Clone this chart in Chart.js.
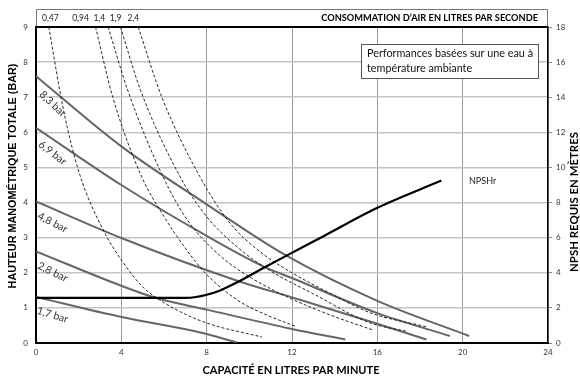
<!DOCTYPE html>
<html><head><meta charset="utf-8">
<script src="https://cdn.jsdelivr.net/npm/chart.js@4"></script>
<style>html,body{margin:0;padding:0;background:#fff}canvas{display:block}</style>
</head><body>
<canvas id="c" width="580" height="376"></canvas>
<script>
// ---- data ----
const xTickValues = [0,4,8,12,16,20,24];          // capacité, l/min
const yTickValues = [0,1,2,3,4,5,6,7,8,9];        // bar
const y2TickValues = [0,2,4,6,8,10,12,14,16,18];  // m

const pressureLabels = ['8,3 bar','6,9 bar','4,8 bar','2,8 bar','1,7 bar'];
const bar83X = [0,4,8,11.7,16,20.3];
const bar83Y = [7.6,5.6,3.95,2.5,1.2,0.2];
const bar69X = [0,4,8,10.7,12,16,19.4];
const bar69Y = [6.13,4.5,3.05,2.17,1.85,0.85,0.2];
const bar48X = [0,4,9.5,12,16,18.3];
const bar48Y = [4.03,2.99,1.76,1.3,0.55,0.1];
const bar28X = [0,4,5.65,8,12,14.5];
const bar28Y = [2.61,1.63,1.28,0.95,0.4,0.1];
const bar17X = [0,4,7.7,9.4];
const bar17Y = [1.31,0.74,0.3,0.02];

const airLabels = ['0,47','0,94','1,4','1,9','2,4'];
const air047X = [0.6,1.3,2.05,3.15,4.1,5.0,6.0,7.0,8.2,10.6];
const air047Y = [9,6.6,4.8,3.22,2.28,1.6,1.15,0.82,0.53,0.17];
const air094X = [2.79,3.6,4.95,6.0,7.0,8.0,9.5,10.8,12.15];
const air094Y = [9,7.0,4.74,3.6,2.7,1.95,1.2,0.8,0.48];
const air14X = [3.38,4.3,5.95,7.1,8.6,10.1,12,14,15.75];
const air14Y = [9,7.2,4.74,3.5,2.5,1.85,1.25,0.75,0.38];
const air19X = [3.96,4.9,6.75,8.0,9.5,11,13,15.67,17.4];
const air19Y = [9,7.2,4.74,3.6,2.7,2.05,1.4,0.57,0.33];
const air24X = [4.79,5.9,7.68,9.1,10.5,12,14,15.67,18.3];
const air24Y = [9,7.0,4.74,3.41,2.6,2.0,1.35,0.86,0.46];

const npshLabel = 'NPSHr';
const npshX = [0,7.0,7.5,8.0,8.6,9.5,10.7,11.7,13.5,16,19];
const npshY = [2.57,2.57,2.62,2.75,2.98,3.5,4.3,4.95,6.1,7.7,9.25]; // m

const titleX = 'CAPACITÉ EN LITRES PAR MINUTE';
const titleY = 'HAUTEUR MANOMÉTRIQUE TOTALE (BAR)';
const titleY2 = 'NPSH REQUIS EN MÈTRES';
const titleTop = 'CONSOMMATION D\u2019AIR EN LITRES PAR SECONDE';
const noteLines = ['Performances basées sur une eau à','température ambiante'];

// ---- build ----
const pts = (xs, ys) => xs.map((x,i)=>({x, y: ys[i]}));
const pressureSeries = [[bar83X,bar83Y],[bar69X,bar69Y],[bar48X,bar48Y],[bar28X,bar28Y],[bar17X,bar17Y]];
const airSeries = [[air047X,air047Y],[air094X,air094Y],[air14X,air14Y],[air19X,air19Y],[air24X,air24Y]];

const datasets = [];
datasets.push({label:npshLabel, data: pts(npshX,npshY), yAxisID:'y2', borderColor:'#000', borderWidth:2.2, pointRadius:0, cubicInterpolationMode:'monotone', fill:false});
airSeries.forEach((s,i)=>datasets.push({label:airLabels[i], data: pts(s[0],s[1]), yAxisID:'y', borderColor:'#111', borderWidth:0.9, borderDash:[3,2], pointRadius:0, cubicInterpolationMode:'monotone', fill:false}));
pressureSeries.forEach((s,i)=>datasets.push({label:pressureLabels[i], data: pts(s[0],s[1]), yAxisID:'y', borderColor:'#666', borderWidth:2, pointRadius:0, cubicInterpolationMode:'monotone', fill:false}));

function fitFont(ctx, text, weight, family, width){
  ctx.font = weight+' 20px '+family;
  const w = ctx.measureText(text).width;
  return weight+' '+(20*width/w).toFixed(2)+'px '+family;
}
function interp(xs, ys, x){
  for(let i=0;i<xs.length-1;i++){ if(x>=xs[i] && x<=xs[i+1]){ const t=(x-xs[i])/(xs[i+1]-xs[i]); return ys[i]+t*(ys[i+1]-ys[i]); } }
  return ys[ys.length-1];
}

const deco = {
  id:'deco',
  afterDatasetsDraw(chart){
    const ctx = chart.ctx, a = chart.chartArea, X = chart.scales.x, Y = chart.scales.y;
    ctx.save();
    // top strip
    ctx.strokeStyle = '#777'; ctx.lineWidth = 1;
    ctx.beginPath();
    ctx.moveTo(a.left+0.5, a.top); ctx.lineTo(a.left+0.5, 9.5); ctx.lineTo(a.right-0.5, 9.5); ctx.lineTo(a.right-0.5, a.top);
    ctx.stroke();
    ctx.strokeStyle = '#000'; ctx.lineWidth = 2;
    ctx.beginPath(); ctx.moveTo(a.left, a.top); ctx.lineTo(a.right, a.top); ctx.stroke();
    // air labels: right-aligned at the curve start, kept apart from each other
    ctx.fillStyle = '#222'; ctx.textBaseline = 'middle'; ctx.textAlign = 'right';
    ctx.font = '8.5px Lato';
    const rights = airSeries.map(s=>X.getPixelForValue(s[0][0]) + 1);
    const widths = airLabels.map(t=>ctx.measureText(t).width);
    for(let i=rights.length-2;i>=0;i--){ rights[i] = Math.min(rights[i], rights[i+1]-widths[i+1]-4.5); }
    rights[0] = Math.max(rights[0], a.left + 6 + widths[0]);
    airLabels.forEach((t,i)=>ctx.fillText(t, rights[i], 18.5));
    ctx.font = fitFont(ctx, titleTop, 'bold', 'Lato', 217);
    ctx.fillStyle = '#000';
    ctx.fillText(titleTop, 538, 18.5);
    // note box
    ctx.fillStyle = '#fff'; ctx.fillRect(361, 44, 178, 35);
    ctx.strokeStyle = '#555'; ctx.lineWidth = 1; ctx.strokeRect(361.5, 44.5, 177, 34);
    ctx.fillStyle = '#111'; ctx.textAlign = 'left';
    ctx.font = fitFont(ctx, noteLines[0], 'normal', 'Lato', 166);
    ctx.fillText(noteLines[0], 367, 54);
    ctx.fillText(noteLines[1], 367, 69);
    // NPSHr label
    ctx.font = '9px Lato'; ctx.fillStyle = '#222';
    ctx.fillText(npshLabel, 469, 181.5);
    // pressure labels
    ctx.font = '10.5px Lato'; ctx.fillStyle = '#333'; ctx.textAlign='center';
    pressureSeries.forEach((s,i)=>{
      const xs=s[0], ys=s[1];
      const cx = X.getPixelForValue(0.78);
      const ly = Y.getPixelForValue(interp(xs,ys,0.78));
      const dx = X.getPixelForValue(xs[1]) - X.getPixelForValue(xs[0]);
      const dy = Y.getPixelForValue(ys[1]) - Y.getPixelForValue(ys[0]);
      const ang = Math.atan2(dy, dx) + 4*Math.PI/180;
      ctx.save(); ctx.translate(cx, ly + 14); ctx.rotate(ang);
      ctx.fillText(pressureLabels[i], 0, 0); ctx.restore();
    });
    // axis titles
    ctx.fillStyle = '#000';
    ctx.font = fitFont(ctx, titleX, 'bold', 'Lato', 177);
    ctx.textAlign='center';
    ctx.fillText(titleX, 291, 370);
    ctx.save(); ctx.translate(13, 176); ctx.rotate(-Math.PI/2);
    ctx.font = fitFont(ctx, titleY, 'bold', 'Liberation Sans', 225);
    ctx.fillText(titleY, 0, 0); ctx.restore();
    ctx.save(); ctx.translate(574.5, 202); ctx.rotate(-Math.PI/2);
    ctx.font = fitFont(ctx, titleY2, 'bold', 'Lato', 140);
    ctx.fillText(titleY2, 0, 0); ctx.restore();
    ctx.restore();
  }
};

new Chart(document.getElementById('c'), {
  type:'line',
  data:{datasets},
  options:{
    responsive:false, animation:false, devicePixelRatio:1,
    layout:{padding:{top:27,left:0,right:0,bottom:0}},
    plugins:{legend:{display:false}, tooltip:{enabled:false}},
    scales:{
      x:{type:'linear', min:0, max:24,
        afterBuildTicks:s=>{s.ticks = xTickValues.map(v=>({value:v}));},
        afterFit:s=>{s.height=33;},
        ticks:{font:{family:'Lato',size:8}, color:'#333', padding:5},
        grid:{color:'#9a9a9a', lineWidth:1, drawTicks:false},
        border:{display:true, color:'#000', width:2}},
      y:{type:'linear', min:0, max:9, position:'left',
        afterBuildTicks:s=>{s.ticks = yTickValues.map(v=>({value:v}));},
        afterFit:s=>{s.width=36;},
        ticks:{font:{family:'Lato',size:8}, color:'#333', padding:8},
        grid:{color:'#c4c4c4', lineWidth:1.5, drawTicks:false},
        border:{display:true, color:'#000', width:2}},
      y2:{type:'linear', min:0, max:18, position:'right',
        afterBuildTicks:s=>{s.ticks = y2TickValues.map(v=>({value:v}));},
        afterFit:s=>{s.width=32;},
        ticks:{font:{family:'Lato',size:8}, color:'#333', padding:4},
        grid:{drawOnChartArea:false, drawTicks:true, tickLength:4, color:'#888'},
        border:{display:true, color:'#000', width:1.5}}
    }
  },
  plugins:[deco]
});
</script>
</body></html>
